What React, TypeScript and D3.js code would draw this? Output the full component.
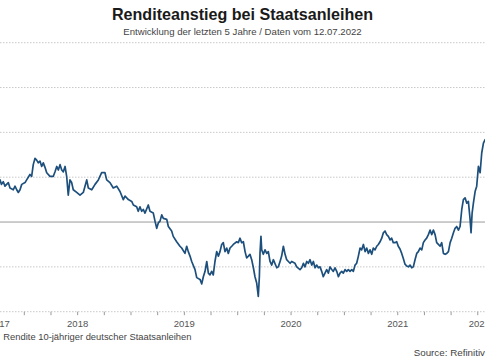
import React from "react";
import * as d3 from "d3";

const title = "Renditeanstieg bei Staatsanleihen";
const subtitle = "Entwicklung der letzten 5 Jahre / Daten vom 12.07.2022";
const seriesLabel = "Rendite 10-jähriger deutscher Staatsanleihen";
const sourceLabel = "Source: Refinitiv";

const yearLabels = [2017, 2018, 2019, 2020, 2021, 2022];
const gridValues = [2, 1.5, 1, 0.5, -0.5, -1];
const zeroValue = 0;
const domainStart = 2017.53;
const domainEnd = 2022.53;

// decimal-year dates and yields (%) by year
const d2017 = [2017.53, 2017.58, 2017.63, 2017.68, 2017.72, 2017.75, 2017.772, 2017.786, 2017.803, 2017.819, 2017.85, 2017.866, 2017.897, 2017.913, 2017.929, 2017.944, 2017.96, 2017.976];
const y2017 = [0.55, 0.48, 0.4, 0.42, 0.46, 0.4, 0.47, 0.42, 0.45, 0.4, 0.44, 0.38, 0.36, 0.4, 0.36, 0.33, 0.36, 0.42];

const d2018 = [2018.007, 2018.022, 2018.053, 2018.069, 2018.084, 2018.1, 2018.116, 2018.131, 2018.147, 2018.163,
  2018.178, 2018.194, 2018.21, 2018.241, 2018.272, 2018.288, 2018.304, 2018.319, 2018.335, 2018.351,
  2018.366, 2018.382, 2018.397, 2018.412, 2018.428, 2018.444, 2018.459, 2018.491, 2018.522, 2018.553,
  2018.569, 2018.585, 2018.6, 2018.632, 2018.663, 2018.694, 2018.725, 2018.756, 2018.772, 2018.803,
  2018.834, 2018.866, 2018.897, 2018.928, 2018.944, 2018.975];
const y2018 = [0.44, 0.47, 0.53, 0.51, 0.64, 0.71, 0.69, 0.66, 0.68, 0.62,
  0.66, 0.61, 0.55, 0.51, 0.51, 0.56, 0.62, 0.58, 0.64, 0.58,
  0.56, 0.62, 0.51, 0.3, 0.47, 0.44, 0.36, 0.33, 0.3, 0.33,
  0.4, 0.47, 0.38, 0.36, 0.42, 0.47, 0.55, 0.55, 0.47, 0.44,
  0.38, 0.4, 0.34, 0.25, 0.29, 0.25];

const d2019 = [2019.007, 2019.022, 2019.053, 2019.068, 2019.084, 2019.1, 2019.115, 2019.131, 2019.162, 2019.178,
  2019.209, 2019.225, 2019.241, 2019.256, 2019.272, 2019.288, 2019.303, 2019.335, 2019.35, 2019.381,
  2019.396, 2019.428, 2019.459, 2019.475, 2019.506, 2019.522, 2019.537, 2019.553, 2019.569, 2019.6,
  2019.616, 2019.647, 2019.663, 2019.678, 2019.694, 2019.71, 2019.725, 2019.74, 2019.756, 2019.771,
  2019.787, 2019.803, 2019.819, 2019.834, 2019.85, 2019.865, 2019.881, 2019.897, 2019.912, 2019.928,
  2019.944, 2019.959, 2019.991];
const y2019 = [0.23, 0.19, 0.17, 0.12, 0.17, 0.12, 0.14, 0.1, 0.19, 0.12,
  0.1, 0.01, -0.07, -0.01, 0.01, 0.08, 0.04, 0.03, -0.05, -0.1,
  -0.16, -0.22, -0.27, -0.29, -0.35, -0.27, -0.33, -0.38, -0.44, -0.53,
  -0.62, -0.64, -0.69, -0.61, -0.55, -0.44, -0.57, -0.59, -0.55, -0.59,
  -0.44, -0.33, -0.38, -0.33, -0.25, -0.23, -0.33, -0.29, -0.35, -0.29,
  -0.27, -0.25, -0.22];

const d2020 = [2020.006, 2020.022, 2020.037, 2020.053, 2020.069, 2020.084, 2020.1, 2020.115, 2020.131, 2020.147,
  2020.162, 2020.178, 2020.193, 2020.203, 2020.209, 2020.218, 2020.225, 2020.24, 2020.256, 2020.272,
  2020.287, 2020.303, 2020.319, 2020.334, 2020.366, 2020.381, 2020.397, 2020.412, 2020.428, 2020.444,
  2020.459, 2020.475, 2020.491, 2020.506, 2020.537, 2020.553, 2020.584, 2020.6, 2020.616, 2020.631,
  2020.647, 2020.662, 2020.678, 2020.694, 2020.709, 2020.725, 2020.741, 2020.756, 2020.772, 2020.787,
  2020.802, 2020.818, 2020.834, 2020.85, 2020.865, 2020.881, 2020.896, 2020.912, 2020.928, 2020.944,
  2020.959, 2020.975, 2020.99];
const y2020 = [-0.23, -0.18, -0.23, -0.22, -0.33, -0.4, -0.38, -0.36, -0.42, -0.51,
  -0.61, -0.68, -0.83, -0.61, -0.35, -0.16, -0.31, -0.36, -0.31, -0.35,
  -0.33, -0.44, -0.48, -0.42, -0.51, -0.5, -0.44, -0.38, -0.27, -0.36,
  -0.42, -0.44, -0.46, -0.44, -0.46, -0.5, -0.53, -0.51, -0.46, -0.5,
  -0.44, -0.46, -0.42, -0.48, -0.44, -0.51, -0.48, -0.51, -0.5, -0.55,
  -0.61, -0.57, -0.53, -0.57, -0.5, -0.53, -0.55, -0.51, -0.55, -0.61,
  -0.57, -0.55, -0.57];

const d2021 = [2021.006, 2021.022, 2021.037, 2021.053, 2021.069, 2021.084, 2021.1, 2021.115, 2021.131, 2021.147,
  2021.162, 2021.178, 2021.194, 2021.209, 2021.225, 2021.24, 2021.256, 2021.271, 2021.287, 2021.303,
  2021.318, 2021.334, 2021.35, 2021.365, 2021.381, 2021.396, 2021.412, 2021.428, 2021.443, 2021.458,
  2021.474, 2021.49, 2021.505, 2021.521, 2021.537, 2021.553, 2021.568, 2021.584, 2021.6, 2021.615,
  2021.631, 2021.646, 2021.662, 2021.678, 2021.693, 2021.709, 2021.725, 2021.74, 2021.756, 2021.771,
  2021.787, 2021.803, 2021.818, 2021.834, 2021.85, 2021.865, 2021.881, 2021.897, 2021.912, 2021.928,
  2021.944, 2021.959, 2021.975, 2021.991];
const y2021 = [-0.53, -0.55, -0.53, -0.55, -0.53, -0.55, -0.48, -0.46, -0.38, -0.29,
  -0.31, -0.25, -0.33, -0.29, -0.35, -0.31, -0.36, -0.29, -0.31, -0.27,
  -0.25, -0.22, -0.18, -0.12, -0.1, -0.14, -0.16, -0.2, -0.18, -0.23,
  -0.23, -0.22, -0.27, -0.3, -0.35, -0.41, -0.47, -0.49, -0.5, -0.48,
  -0.51, -0.5, -0.42, -0.35, -0.33, -0.29, -0.31, -0.23, -0.2, -0.18,
  -0.14, -0.09, -0.14, -0.09, -0.14, -0.23, -0.25, -0.27, -0.23, -0.35,
  -0.36, -0.35, -0.33, -0.23];

const d2022 = [2022.006, 2022.022, 2022.037, 2022.053, 2022.069, 2022.084, 2022.1, 2022.115, 2022.131, 2022.147,
  2022.162, 2022.178, 2022.187, 2022.197, 2022.209, 2022.225, 2022.24, 2022.256, 2022.272, 2022.287,
  2022.303, 2022.319, 2022.34, 2022.36, 2022.38, 2022.4, 2022.42, 2022.44, 2022.46, 2022.47,
  2022.49, 2022.51, 2022.53];
const y2022 = [-0.18, -0.12, -0.07, -0.05, -0.09, -0.05, 0.14, 0.25, 0.27, 0.21,
  0.23, 0.03, -0.12, 0.1, 0.21, 0.34, 0.4, 0.62, 0.55, 0.77,
  0.88, 0.92, 0.85, 1.0, 0.95, 1.05, 0.95, 1.25, 1.5, 1.75,
  1.45, 1.3, 1.15];

const dates = [...d2017, ...d2018, ...d2019, ...d2020, ...d2021, ...d2022];
const yields = [...y2017, ...y2018, ...y2019, ...y2020, ...y2021, ...y2022];

const W = 485;
const H = 360;
const FONT = "'Liberation Sans', Arial, Helvetica, sans-serif";

export default function App() {
  const x = d3.scaleLinear().domain([domainStart, domainEnd]).range([-25.85, 507.65]);
  const y = d3.scaleLinear().domain([-1, 2]).range([311.7, 42.7]);

  const points = dates.map((d, i) => [d, yields[i]] as [number, number]);
  const line = d3
    .line<[number, number]>()
    .x((p) => x(p[0]))
    .y((p) => y(p[1]));

  const quarterTicks = d3.range(2017.75, 2022.51, 0.25);
  const axisY = y(-1);

  return (
    <svg
      width={W}
      height={H}
      style={{ position: "absolute", left: 0, top: 0, background: "#fff" }}
      fontFamily={FONT}
    >
      <text x={242.5} y={20} textAnchor="middle" fontSize={16.1} fontWeight="bold" fill="#1a1a1a">
        {title}
      </text>
      <text x={242.5} y={35} textAnchor="middle" fontSize={9.6} fill="#444">
        {subtitle}
      </text>

      {gridValues.map((g) => (
        <line
          key={g}
          x1={0}
          x2={W}
          y1={y(g)}
          y2={y(g)}
          stroke="#c9c9c9"
          strokeWidth={1}
          strokeDasharray="1.5,1.5"
        />
      ))}
      <line x1={0} x2={W} y1={y(zeroValue)} y2={y(zeroValue)} stroke="#9a9a9a" strokeWidth={1} />

      {quarterTicks.map((t) => (
        <line key={t} x1={x(t)} x2={x(t)} y1={axisY} y2={axisY + 3.5} stroke="#9a9a9a" strokeWidth={1} />
      ))}

      {yearLabels.map((yr) => {
        const a = Math.max(yr, domainStart);
        const b = Math.min(yr + 1, domainEnd);
        return (
          <text key={yr} x={x((a + b) / 2)} y={326.8} textAnchor="middle" fontSize={9.5} fill="#555">
            {yr}
          </text>
        );
      })}

      <path d={line(points) || ""} fill="none" stroke="#1d4f7c" strokeWidth={1.7} strokeLinejoin="round" />

      <text x={3.3} y={340} fontSize={9.4} fill="#444">
        {seriesLabel}
      </text>
      <text x={485} y={355.5} textAnchor="end" fontSize={9.8} fill="#444">
        {sourceLabel}
      </text>
    </svg>
  );
}
